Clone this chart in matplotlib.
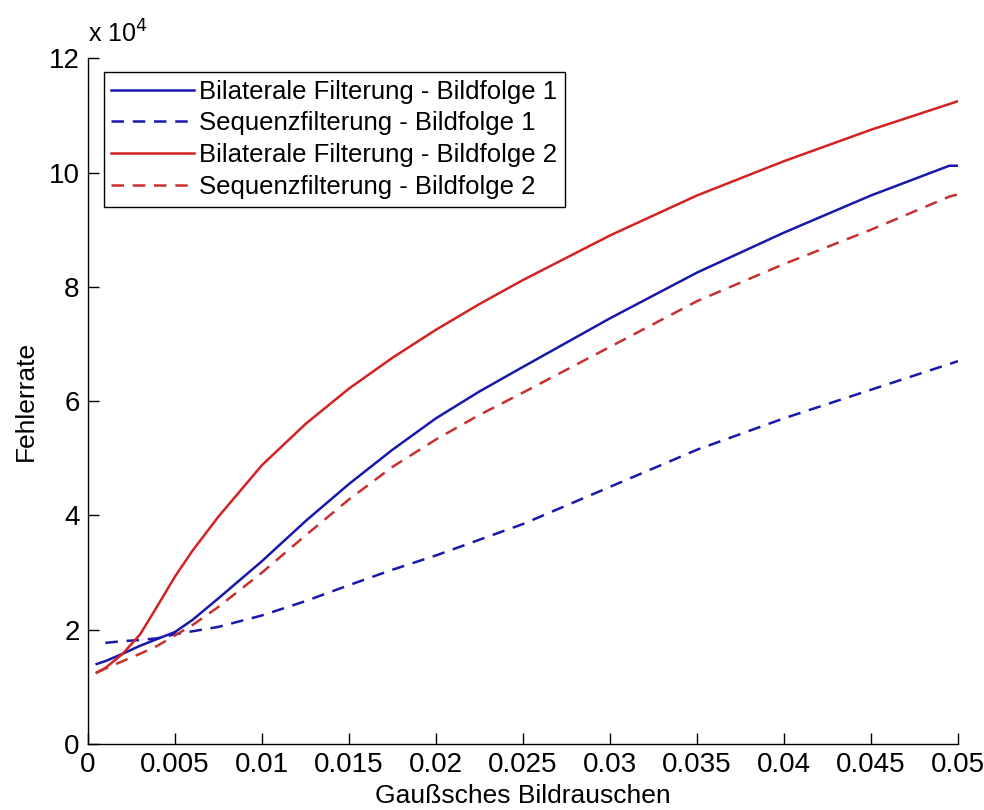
import numpy as np
import matplotlib
matplotlib.use("Agg")
import matplotlib.pyplot as plt

plt.rcParams['font.family'] = ['Liberation Sans', 'DejaVu Sans']

# noise level (x axis)
noise = [0.0005, 0.001, 0.002, 0.003, 0.004, 0.005, 0.006, 0.0075, 0.01, 0.0125,
         0.015, 0.0175, 0.02, 0.0225, 0.025, 0.03, 0.035, 0.04, 0.045, 0.0495, 0.05]
noise_seq1 = [0.001, 0.002, 0.003, 0.004, 0.005, 0.0075, 0.01, 0.0125,
              0.015, 0.0175, 0.02, 0.025, 0.03, 0.035, 0.04, 0.045, 0.05]

# error rate, in units of 10^4
bilateral_1 = [1.40, 1.45, 1.58, 1.72, 1.84, 1.96, 2.17, 2.55, 3.20, 3.90,
               4.55, 5.15, 5.70, 6.17, 6.60, 7.45, 8.25, 8.95, 9.60, 10.12, 10.12]
sequenz_1 = [1.77, 1.80, 1.82, 1.85, 1.92, 2.05, 2.25, 2.50,
             2.78, 3.05, 3.30, 3.85, 4.50, 5.15, 5.70, 6.20, 6.70]
bilateral_2 = [1.25, 1.33, 1.58, 1.92, 2.42, 2.93, 3.38, 3.98, 4.88, 5.60,
               6.22, 6.76, 7.25, 7.70, 8.12, 8.90, 9.60, 10.20, 10.75, 11.20, 11.25]
sequenz_2 = [1.25, 1.32, 1.45, 1.58, 1.72, 1.90, 2.08, 2.40, 3.00, 3.65,
             4.28, 4.85, 5.33, 5.76, 6.15, 6.95, 7.75, 8.40, 9.00, 9.58, 9.62]

labels = ['Bilaterale Filterung - Bildfolge 1', 'Sequenzfilterung - Bildfolge 1',
          'Bilaterale Filterung - Bildfolge 2', 'Sequenzfilterung - Bildfolge 2']
xticks = [0, 0.005, 0.01, 0.015, 0.02, 0.025, 0.03, 0.035, 0.04, 0.045, 0.05]
xticklabels = ['0', '0.005', '0.01', '0.015', '0.02', '0.025', '0.03', '0.035', '0.04', '0.045', '0.05']
yticks = [0, 2, 4, 6, 8, 10, 12]

blue = '#1818aa'
red = '#d42222'
red_dash = '#c83030'
fs = 20

fig = plt.figure(figsize=(9.84, 8.1), dpi=100)
ax = fig.add_axes([0.0894, 0.0815, 0.8842, 0.8465])

ax.plot(noise, bilateral_1, color=blue, lw=1.8, label=labels[0])
ax.plot(noise_seq1, sequenz_1, color=blue, lw=1.8, ls=(0, (5, 3.5)), label=labels[1])
ax.plot(noise, bilateral_2, color=red, lw=1.8, label=labels[2])
ax.plot(noise, sequenz_2, color=red_dash, lw=1.8, ls=(0, (5, 3.5)), label=labels[3])

ax.set_xlim(0, 0.05)
ax.set_ylim(0, 12)
ax.set_xticks(xticks)
ax.set_xticklabels(xticklabels)
ax.set_yticks(yticks)
ax.tick_params(direction='in', length=8, width=1, labelsize=fs, pad=6)
for s in ['top', 'right']:
    ax.spines[s].set_visible(False)
for s in ['left', 'bottom']:
    ax.spines[s].set_linewidth(1)

ax.set_xlabel('Gaußsches Bildrauschen', fontsize=19, labelpad=4)
ax.set_ylabel('Fehlerrate', fontsize=19, labelpad=8)
ax.text(0.0, 1.015, r'x 10$^4$', transform=ax.transAxes, fontsize=fs - 2, ha='left', va='bottom')

leg = ax.legend(loc='upper left', bbox_to_anchor=(0.018, 0.98), borderaxespad=0,
                fontsize=18.5, handlelength=3.2, handletextpad=0.2, labelspacing=0.3,
                fancybox=False, framealpha=1, edgecolor='black', borderpad=0.3)
leg.get_frame().set_linewidth(1)

fig.savefig('out.png', dpi=100)
